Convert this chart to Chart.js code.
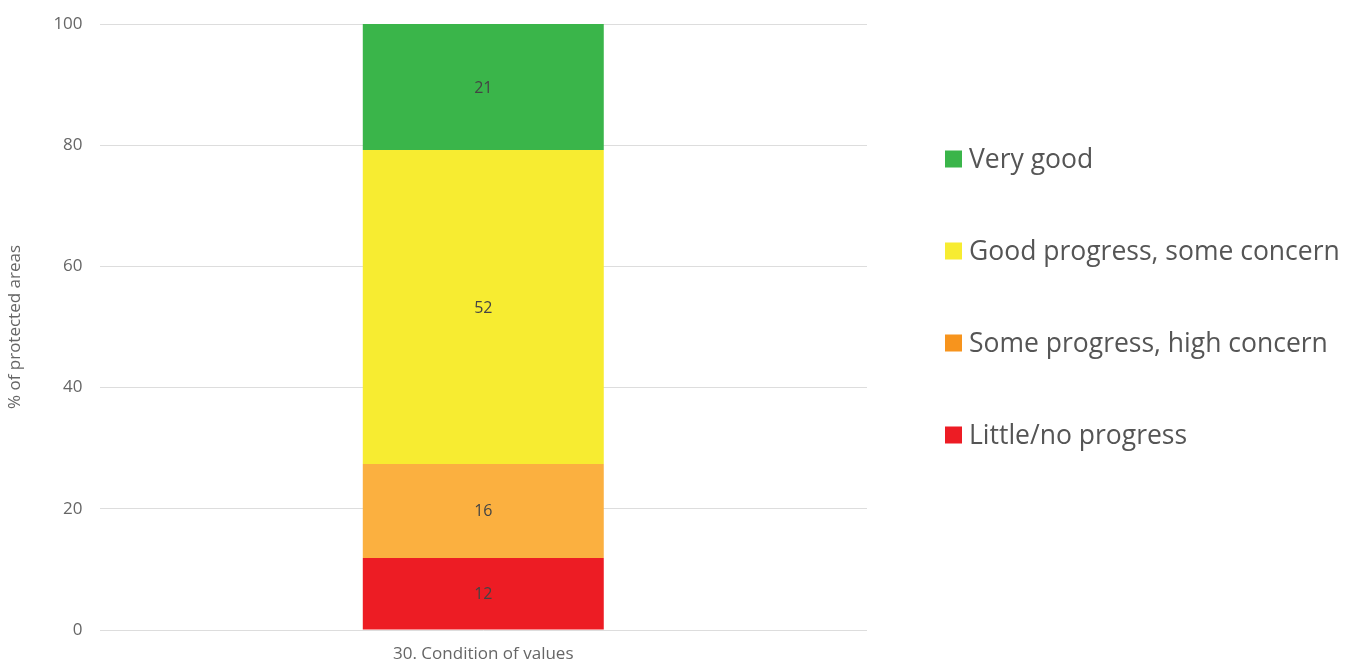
<!DOCTYPE html>
<html>
<head>
<meta charset="utf-8">
<script src="https://cdn.jsdelivr.net/npm/chart.js@4"></script>
<style>
  html, body { margin: 0; padding: 0; background: #fff; }
  #wrap { width: 1347px; height: 662px; position: relative; }
</style>
</head>
<body>
<div id="wrap"><canvas id="chart"></canvas></div>
<script>
// Daten
const categories = ['30. Condition of values'];
const seriesNames = ['Little/no progress', 'Some progress, high concern', 'Good progress, some concern', 'Very good'];
const seriesValues = [[11.9], [15.5], [51.8], [20.8]];
const barColors = ['#ED1C24', '#FBB040', '#F7EC31', '#3AB54A'];
const legendColors = ['#ED1C24', '#F7941D', '#F7EC31', '#3AB54A'];
const yTicks = [0, 20, 40, 60, 80, 100];

const FONT = "'Open Sans', sans-serif";

// Werte in die Balken schreiben
const valueLabels = {
    id: 'valueLabels',
    afterDatasetsDraw(chart) {
        const ctx = chart.ctx;
        ctx.save();
        ctx.font = '16px ' + FONT;
        ctx.fillStyle = '#444';
        ctx.textAlign = 'center';
        ctx.textBaseline = 'middle';
        chart.data.datasets.forEach((ds, i) => {
            chart.getDatasetMeta(i).data.forEach((bar, j) => {
                const mid = (bar.y + bar.base) / 2;
                ctx.fillText(Math.round(ds.data[j]), bar.x, mid + 1);
            });
        });
        ctx.restore();
    }
};

// Legende rechts, von oben nach unten in umgekehrter Reihenfolge
const sideLegend = {
    id: 'sideLegend',
    afterDraw(chart) {
        const ctx = chart.ctx;
        const area = chart.chartArea;
        const x = area.right + 78;
        let y = area.top + 135;
        ctx.save();
        ctx.font = '26.5px ' + FONT;
        ctx.textBaseline = 'middle';
        ctx.textAlign = 'left';
        for (let i = seriesNames.length - 1; i >= 0; i--) {
            ctx.fillStyle = legendColors[i];
            ctx.fillRect(x, y - 8.5, 17, 17);
            ctx.fillStyle = '#555';
            ctx.fillText(seriesNames[i], x + 24, y + 1);
            y += 92;
        }
        ctx.restore();
    }
};

const datasets = seriesNames.map((name, i) => ({
    label: name,
    data: seriesValues[i],
    backgroundColor: barColors[i],
    borderWidth: 0,
    barPercentage: 0.314,
    categoryPercentage: 1
}));

new Chart(document.getElementById('chart'), {
    type: 'bar',
    data: { labels: categories, datasets: datasets },
    options: {
        responsive: true,
        maintainAspectRatio: false,
        animation: false,
        layout: { padding: { top: 24, right: 480, bottom: 0, left: 0 } },
        scales: {
            x: {
                stacked: true,
                grid: { display: false },
                border: { display: false },
                afterFit: axis => { axis.height = 32; },
                ticks: { color: '#666', font: { family: FONT, size: 17 }, padding: 6 }
            },
            y: {
                stacked: true,
                min: 0,
                max: 100,
                afterBuildTicks: axis => { axis.ticks = yTicks.map(v => ({ value: v })); },
                afterFit: axis => { axis.paddingTop = 0; axis.paddingBottom = 0; },
                grid: { color: '#dddddd', drawTicks: false },
                border: { display: false },
                ticks: { color: '#666', font: { family: FONT, size: 17 }, padding: 17 },
                title: { display: true, text: '% of protected areas', color: '#666', font: { family: FONT, size: 17 }, padding: { top: 5, bottom: 11 } }
            }
        },
        plugins: {
            tooltip: { enabled: false },
            legend: { display: false }
        }
    },
    plugins: [valueLabels, sideLegend]
});
</script>
</body>
</html>
